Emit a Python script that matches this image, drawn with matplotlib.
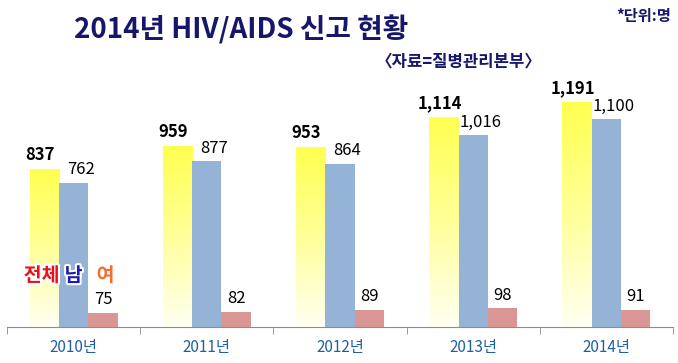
import numpy as np
import matplotlib.pyplot as plt
import matplotlib.patheffects as pe
from matplotlib.colors import LinearSegmentedColormap

plt.rcParams['font.family'] = ['Noto Sans CJK KR', 'DejaVu Sans']

years = ["2010년", "2011년", "2012년", "2013년", "2014년"]
total = [837, 959, 953, 1114, 1191]
male = [762, 877, 864, 1016, 1100]
female = [75, 82, 89, 98, 91]

fig = plt.figure(figsize=(6.78, 3.63), dpi=100)
ax = fig.add_axes([0.0103, 0.0992, 0.9823, 0.78])
ymax = 1500
x = np.arange(len(years))
w = 0.22

# yellow bars with vertical gradient (white at bottom -> yellow at top)
grad = np.linspace(0, 1, 256).reshape(-1, 1)
ycmap = LinearSegmentedColormap.from_list("yl", ["#FFFFF2", "#FFFF99", "#FFFF50"])
bars_t = ax.bar(x - w, total, w, color="none", edgecolor="none")
for b in bars_t:
    x0, h = b.get_x(), b.get_height()
    im = ax.imshow(grad, extent=[x0, x0 + b.get_width(), 0, h], origin="lower",
                   cmap=ycmap, aspect="auto", zorder=2)
    im.set_clip_path(b)
ax.set_xlim(-0.5, len(years) - 0.5)
ax.set_ylim(0, ymax)

ax.bar(x, male, w, color="#95B3D7", zorder=2)
ax.bar(x + w, female, w, color="#D99694", zorder=2)

for i in range(len(years)):
    ax.text(x[i] - w * 1.15, total[i] + 25, f"{total[i]:,}", ha="center", va="bottom",
            fontsize=12, fontweight="bold", color="black")
    ax.text(x[i] + w * 0.25, male[i] + 25, f"{male[i]:,}", ha="center", va="bottom",
            fontsize=12, color="black")
    ax.text(x[i] + w, female[i] + 25, f"{female[i]:,}", ha="center", va="bottom",
            fontsize=12, color="black")

# legend-like labels in the first group
stroke = [pe.withStroke(linewidth=3, foreground="white")]
ax.text(-w - 0.02, 270, "전체", ha="center", va="center", fontsize=14, fontweight="bold",
        color="#E8101A", path_effects=stroke, zorder=5)
ax.text(0, 270, "남", ha="center", va="center", fontsize=14, fontweight="bold",
        color="#1A1AB0", path_effects=stroke, zorder=5)
ax.text(w + 0.02, 270, "여", ha="center", va="center", fontsize=14, fontweight="bold",
        color="#F07030", path_effects=stroke, zorder=5)

for s in ["top", "right", "left"]:
    ax.spines[s].set_visible(False)
ax.spines["bottom"].set_color("#8C8C8C")
ax.set_yticks([])
ax.set_xticks(np.arange(len(years) + 1) - 0.5, minor=True)
ax.tick_params(axis="x", which="minor", length=5, color="#8C8C8C")
ax.tick_params(axis="x", which="major", length=0, pad=9)
ax.set_xticks(x)
ax.set_xticklabels(years, fontsize=11, color="#1F60A0")

fig.text(0.356, 0.918, "2014년 HIV/AIDS 신고 현황", ha="center", va="center",
         fontsize=20, fontweight="bold", color="#16166A")
fig.text(0.99, 0.955, "*단위:명", ha="right", va="center", fontsize=11,
         fontweight="bold", color="#16166A")
fig.text(0.676, 0.832, "〈자료=질병관리본부〉", ha="center", va="center", fontsize=12,
         fontweight="bold", color="#16166A")

fig.savefig("out.png", dpi=100)
